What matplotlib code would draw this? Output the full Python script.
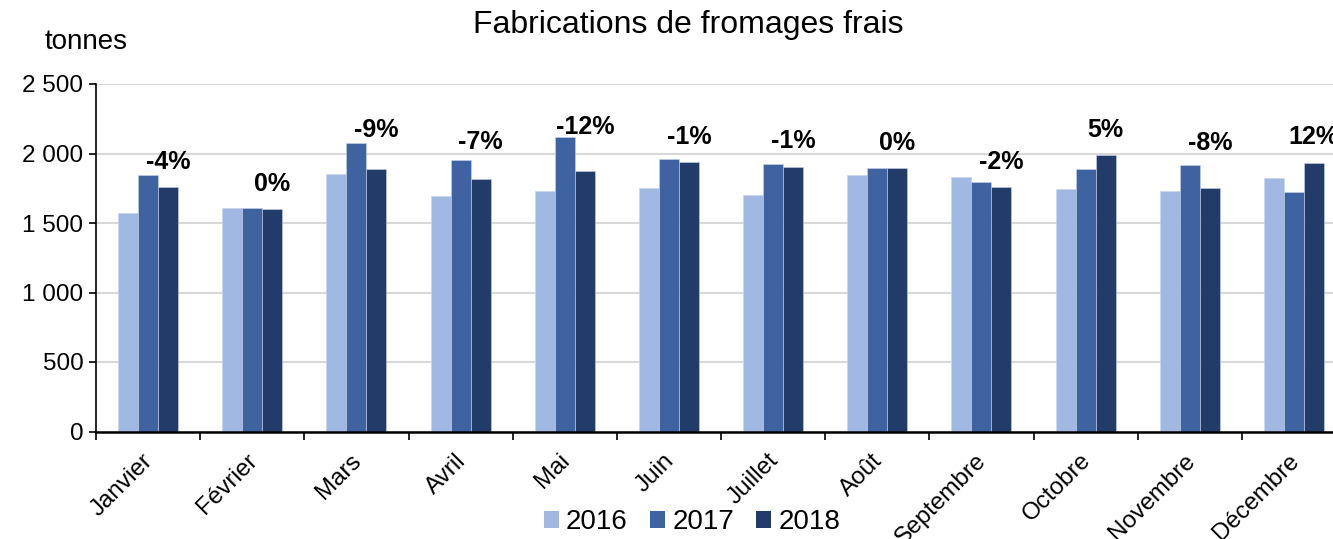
import numpy as np
import matplotlib
matplotlib.use("Agg")
import matplotlib.pyplot as plt
import matplotlib.transforms as mtransforms
from matplotlib.patches import Patch
from matplotlib.ticker import FuncFormatter, FixedLocator

# ======================
# Data
# ======================
months = ["Janvier", "Février", "Mars", "Avril", "Mai", "Juin", "Juillet",
          "Août", "Septembre", "Octobre", "Novembre", "Décembre"]
years = ["2016", "2017", "2018"]
prod_2016 = [1571, 1611, 1849, 1693, 1731, 1750, 1700, 1842, 1830, 1743, 1731, 1825]
prod_2017 = [1844, 1609, 2076, 1954, 2122, 1964, 1921, 1899, 1798, 1889, 1914, 1722]
prod_2018 = [1762, 1604, 1885, 1820, 1871, 1940, 1901, 1894, 1760, 1986, 1755, 1935]
variations = ["-4%", "0%", "-9%", "-7%", "-12%", "-1%", "-1%", "0%", "-2%", "5%", "-8%", "12%"]

# label offsets above the highest bar of each month (pixels)
label_offsets_px = [13, 24, 13, 18, 10, 22, 23, 25, 15, 25, 22, 26]

colors = ["#A0B8E2", "#3F62A1", "#233B69"]

plt.rcParams["font.family"] = ["Liberation Sans", "DejaVu Sans"]

W, H = 1333, 539
fig = plt.figure(figsize=(W / 100, H / 100), dpi=100)
ax = fig.add_axes([96 / W, (H - 431.5) / H, 1250 / W, 347.5 / H])

x = np.arange(len(months))
bw = 0.192
series = [prod_2016, prod_2017, prod_2018]
for i, (vals, col) in enumerate(zip(series, colors)):
    ax.bar(x + (i - 1) * bw, vals, width=bw, color=col, zorder=3,
           edgecolor="#C8D4EC", linewidth=0.4)

# variation labels over the 2018 bar
for i, txt in enumerate(variations):
    top = max(prod_2016[i], prod_2017[i], prod_2018[i])
    ax.annotate(txt, (x[i] + bw, top), xytext=(0, label_offsets_px[i] * 0.72),
                textcoords="offset points", ha="center", va="center",
                fontsize=18, fontweight="bold", annotation_clip=False, zorder=4)

ax.set_xlim(-0.5, len(months) - 0.5)
ax.set_ylim(0, 2500)
ax.set_yticks(np.arange(0, 2501, 500))
ax.yaxis.set_major_formatter(FuncFormatter(lambda v, p: f"{v:,.0f}".replace(",", " ")))
ax.grid(axis="y", color="#D9D9D9", linewidth=1.5, zorder=0)
ax.tick_params(axis="y", labelsize=17.5, length=5, width=1.2, pad=4)

# ticks between months, labels at month centres
ax.xaxis.set_major_locator(FixedLocator(np.arange(-0.5, len(months), 1.0)))
ax.xaxis.set_ticklabels([])
ax.set_xticks(x, minor=True)
ax.set_xticklabels(months, minor=True, rotation=45, ha="right",
                   rotation_mode="anchor", fontsize=17.5)
ax.tick_params(axis="x", which="major", length=6, width=1.2)
ax.tick_params(axis="x", which="minor", length=0, pad=13)
shift = mtransforms.ScaledTranslation(-6 / 100, 0, fig.dpi_scale_trans)
for lab in ax.get_xticklabels(minor=True):
    lab.set_transform(lab.get_transform() + shift)

for s in ["top", "right"]:
    ax.spines[s].set_visible(False)
ax.spines["left"].set_linewidth(1.2)
ax.spines["bottom"].set_linewidth(1.8)
ax.spines["bottom"].set_zorder(5)

fig.text(688 / W, 1 - 25 / H, "Fabrications de fromages frais",
         ha="center", va="center", fontsize=23)
fig.text(86 / W, 1 - 42 / H, "tonnes", ha="center", va="center", fontsize=20)

handles = [Patch(facecolor=c, edgecolor="none") for c in colors]
fig.legend(handles, years, loc="center", bbox_to_anchor=(692 / W, 1 - 522 / H),
           ncol=3, frameon=False, fontsize=20, handlelength=0.55, handleheight=0.55,
           handletextpad=0.25, columnspacing=0.8, borderpad=0)

fig.savefig("out.png", dpi=100)
